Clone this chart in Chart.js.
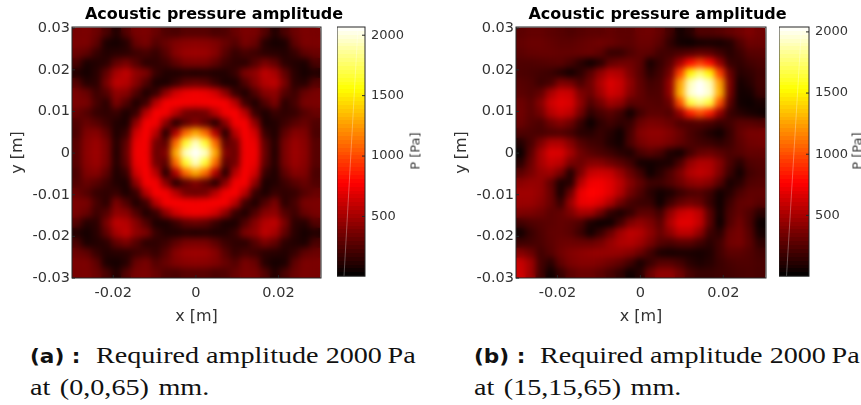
<!DOCTYPE html>
<html>
<head>
<meta charset="utf-8">
<script src="https://cdn.jsdelivr.net/npm/chart.js@4/dist/chart.umd.min.js"></script>
<style>
  html, body { margin: 0; padding: 0; background: #fff; width: 861px; height: 405px; overflow: hidden; position: relative; }
  canvas { position: absolute; top: 0; }
  .cap { position: absolute; font-family: "Liberation Serif", serif; font-size: 22.5px; line-height: 26px; color: #111; white-space: nowrap; transform-origin: 0 50%; transform: scaleX(1.25); }
  .tag { position: absolute; font: bold 20px/26px "DejaVu Sans", sans-serif; color: #111; white-space: nowrap; transform-origin: 0 50%; transform: scaleX(1.08); }
  .plabel { position: absolute; font: 13px "DejaVu Sans", sans-serif; color: #404040; transform: translate(-50%, -50%) rotate(-90deg); white-space: nowrap; }
</style>
</head>
<body>
<canvas id="heatA" width="428" height="330" style="left:0"></canvas>
<canvas id="barA" width="82" height="290" style="left:337px"></canvas>
<canvas id="heatB" width="427" height="330" style="left:444px"></canvas>
<canvas id="barB" width="84" height="290" style="left:779px"></canvas>
<div class="plabel" style="left:415px;top:151px">P [Pa]</div>
<div class="plabel" style="left:857px;top:151px">P [Pa]</div>
<div class="tag" style="left:30px;top:343px">(a) :</div>
<div class="cap" style="left:96px;top:343px">Required amplitude 2000&#8201;Pa</div>
<div class="cap" style="left:30px;top:375px;word-spacing:2px">at (0,0,65) mm.</div>
<div class="tag" style="left:474px;top:343px">(b) :</div>
<div class="cap" style="left:540px;top:343px">Required amplitude 2000&#8201;Pa</div>
<div class="cap" style="left:474px;top:375px;word-spacing:2px">at (15,15,65) mm.</div>
<script>
// grid cell centres (metres), same for x and y
const gridCoords = [-0.0288, -0.0264, -0.024, -0.0216, -0.0192, -0.0168, -0.0144, -0.012, -0.0096, -0.0072, -0.0048, -0.0024, 0,
  0.0024, 0.0048, 0.0072, 0.0096, 0.012, 0.0144, 0.0168, 0.0192, 0.0216, 0.024, 0.0264, 0.0288];
const xTicks = [-0.02, 0, 0.02];
const yTicks = [-0.03, -0.02, -0.01, 0, 0.01, 0.02, 0.03];
const barTicks = [500, 1000, 1500, 2000];
const rangeA = [6, 2068];
const rangeB = [3, 2040];
const axisRange = [-0.03, 0.0303];

// pressure amplitude, top row first
const pressureA = [
  [370,380,330,230,110,260,370,380,320,250,230,270,270,270,230,250,320,380,370,260,110,230,330,380,370],
  [380,380,290,90,70,120,320,370,260,320,390,420,430,420,390,320,260,370,320,120,70,90,290,380,380],
  [330,290,170,110,130,140,190,220,170,270,410,470,480,470,410,270,170,220,190,140,130,110,170,290,330],
  [230,90,110,140,300,370,260,140,150,190,290,370,380,370,290,190,150,140,260,370,300,140,110,90,230],
  [110,70,130,300,510,580,440,380,180,110,100,120,110,120,100,110,180,380,440,580,510,300,130,70,110],
  [260,120,140,370,580,550,410,250,90,90,180,290,320,290,180,90,90,250,410,550,580,370,140,120,260],
  [370,320,190,260,440,410,250,100,180,440,640,720,740,720,640,440,180,100,250,410,440,260,190,320,370],
  [380,370,220,140,380,250,100,200,560,750,760,750,740,750,760,750,560,200,100,250,380,140,220,370,380],
  [320,260,170,150,180,90,180,560,760,740,560,360,330,360,560,740,760,560,180,90,180,150,170,260,320],
  [250,320,270,190,110,90,440,750,740,430,130,290,400,290,130,430,740,750,440,90,110,190,270,320,250],
  [230,390,410,290,100,180,640,760,560,130,550,1100,1300,1100,550,130,560,760,640,180,100,290,410,390,230],
  [270,420,470,370,120,290,720,750,360,290,1100,1650,1950,1650,1100,290,360,750,720,290,120,370,470,420,270],
  [270,430,480,380,110,320,740,740,330,400,1300,1950,2068,1950,1300,400,330,740,740,320,110,380,480,430,270],
  [270,420,470,370,120,290,720,750,360,290,1100,1650,1950,1650,1100,290,360,750,720,290,120,370,470,420,270],
  [230,390,410,290,100,180,640,760,560,130,550,1100,1300,1100,550,130,560,760,640,180,100,290,410,390,230],
  [250,320,270,190,110,90,440,750,740,430,130,290,400,290,130,430,740,750,440,90,110,190,270,320,250],
  [320,260,170,150,180,90,180,560,760,740,560,360,330,360,560,740,760,560,180,90,180,150,170,260,320],
  [380,370,220,140,380,250,100,200,560,750,760,750,740,750,760,750,560,200,100,250,380,140,220,370,380],
  [370,320,190,260,440,410,250,100,180,440,640,720,740,720,640,440,180,100,250,410,440,260,190,320,370],
  [260,120,140,370,580,550,410,250,90,90,180,290,320,290,180,90,90,250,410,550,580,370,140,120,260],
  [110,70,130,300,510,580,440,380,180,110,100,120,110,120,100,110,180,380,440,580,510,300,130,70,110],
  [230,90,110,140,300,370,260,140,150,190,290,370,380,370,290,190,150,140,260,370,300,140,110,90,230],
  [330,290,170,110,130,140,190,220,170,270,410,470,480,470,410,270,170,220,190,140,130,110,170,290,330],
  [380,380,290,90,70,120,320,370,260,320,390,420,430,420,390,320,260,370,320,120,70,90,290,380,380],
  [370,380,330,230,110,260,370,380,320,250,230,270,270,270,230,250,320,380,370,260,110,230,330,380,370],
];

const pressureB = [
  [280,300,300,280,260,240,260,280,280,300,280,280,330,340,300,200,70,120,240,240,260,300,340,380,340],
  [300,320,320,300,280,280,300,320,340,320,290,280,320,320,270,150,60,40,70,80,70,110,240,330,320],
  [280,300,310,310,300,300,310,320,280,170,170,240,290,280,200,200,230,260,300,280,200,120,180,260,270],
  [240,240,250,260,270,220,130,50,130,300,340,340,280,80,170,270,500,800,950,800,450,170,150,200,230],
  [230,220,200,180,120,60,140,270,430,550,520,380,270,130,200,350,950,1500,1750,1500,950,320,120,150,200],
  [260,240,180,220,380,350,230,340,520,660,600,430,290,200,230,450,1250,1900,2040,1900,1250,380,70,120,200],
  [280,250,300,500,620,600,380,330,480,630,580,400,300,230,240,440,1300,1950,2040,1950,1300,360,60,70,180],
  [330,280,400,610,680,650,430,250,350,480,430,280,280,260,250,330,1000,1650,1800,1650,1000,280,60,40,80],
  [340,280,350,540,620,570,350,150,220,270,200,60,200,280,280,250,450,850,1000,850,450,180,120,80,50],
  [320,260,230,340,400,330,170,40,140,200,150,170,320,370,360,320,240,240,260,230,170,200,270,270,250],
  [240,230,220,240,250,210,130,120,170,120,50,220,390,430,430,390,320,230,170,100,50,170,300,360,360],
  [110,220,380,520,520,400,260,200,180,100,60,230,350,400,400,360,300,240,200,180,140,190,280,340,350],
  [40,270,500,660,650,500,340,270,230,190,130,100,220,270,220,100,60,200,310,330,280,230,260,300,300],
  [130,320,500,600,560,370,330,400,400,340,280,200,70,60,80,90,230,440,530,520,400,230,130,240,260],
  [280,360,450,480,360,110,370,590,620,590,460,320,200,50,130,240,370,530,580,540,380,190,60,200,240],
  [420,450,440,300,90,120,540,720,730,670,560,400,290,190,190,250,330,420,450,400,260,80,130,240,260],
  [480,480,440,320,80,330,700,770,750,670,530,350,240,130,60,90,170,230,250,190,60,120,230,290,290],
  [460,460,410,320,170,460,700,720,660,520,340,220,180,170,50,190,300,350,310,170,50,190,290,310,270],
  [380,370,340,280,300,380,500,490,340,150,90,160,280,280,200,430,600,640,560,270,60,230,300,240,130],
  [200,240,260,280,300,280,230,90,40,50,200,380,440,380,280,520,680,680,580,280,40,250,340,230,40],
  [60,170,240,290,300,270,180,60,170,320,480,570,540,430,320,430,570,570,430,190,130,320,360,260,70],
  [190,200,230,280,320,330,320,320,360,450,520,540,480,370,260,230,270,270,200,130,200,340,360,280,140],
  [400,330,200,260,340,390,420,440,450,450,440,400,320,200,90,70,80,80,70,100,200,280,280,250,200],
  [600,480,210,130,290,370,400,400,380,340,290,200,80,170,260,260,210,130,90,120,180,220,240,240,220],
  [620,480,200,50,170,280,320,320,280,220,150,50,120,320,430,430,340,220,170,170,190,200,220,230,220],
];

const textColor = "#333333";
const frameColor = "#262626";
const tickFont = { family: "'DejaVu Sans', sans-serif", size: 14.5 };
const labelFont = { family: "'DejaVu Sans', sans-serif", size: 16 };
const barFont = { family: "'DejaVu Sans', sans-serif", size: 13 };

// MATLAB "hot" colormap, t in 0..1
function hot(t) {
  const c = (v) => Math.max(0, Math.min(1, v));
  const r = Math.round(255 * c(t / 0.375));
  const g = Math.round(255 * c((t - 0.375) / 0.375));
  const b = Math.round(255 * c((t - 0.75) / 0.25));
  return `rgb(${r},${g},${b})`;
}

// redraw the cells through a blur, the reference is shaded with interp
const smoothCells = {
  id: "smoothCells",
  afterDatasetsDraw(chart) {
    const a = chart.chartArea, ctx = chart.ctx;
    ctx.save();
    ctx.beginPath();
    ctx.rect(a.left, a.top, a.width, a.height);
    ctx.clip();
    ctx.filter = "blur(3px)";
    ctx.drawImage(chart.canvas, 0, 0);
    ctx.restore();
  },
};

// the title sits over plot + colorbar, not over the plot only
const wideTitle = {
  id: "wideTitle",
  afterLayout(chart) {
    chart.titleBlock.left = 0;
    chart.titleBlock.right = chart.width;
    chart.titleBlock.width = chart.width;
  },
};

// box round the plot with short inward ticks
const frameTicks = {
  id: "frameTicks",
  afterDraw(chart) {
    const a = chart.chartArea, ctx = chart.ctx;
    const { x, y } = chart.scales;
    ctx.save();
    ctx.strokeStyle = frameColor;
    ctx.lineWidth = 1;
    ctx.strokeRect(a.left, a.top, a.width, a.height);
    const len = 3;
    ctx.beginPath();
    if (x.options.display) {
      x.ticks.forEach((t) => {
        const px = x.getPixelForValue(t.value);
        ctx.moveTo(px, a.bottom); ctx.lineTo(px, a.bottom - len);
      });
    }
    y.ticks.forEach((t) => {
      const py = y.getPixelForValue(t.value);
      if (y.position === "left") { ctx.moveTo(a.left, py); ctx.lineTo(a.left + len, py); }
      else { ctx.moveTo(a.right, py); ctx.lineTo(a.right - len, py); }
    });
    ctx.stroke();
    ctx.restore();
  },
};

function heatChart(id, values, range, rightPad) {
  const points = [], colors = [];
  values.forEach((row, r) => row.forEach((v, c) => {
    points.push({ x: gridCoords[c], y: gridCoords[24 - r] });
    colors.push(hot((v - range[0]) / (range[1] - range[0])));
  }));
  return new Chart(document.getElementById(id), {
    type: "scatter",
    data: { datasets: [{
      data: points,
      backgroundColor: colors,
      borderWidth: 0,
      pointStyle: "rect",
      pointRadius: (ctx) => (ctx.chart.chartArea ? ctx.chart.chartArea.width / 25 * 0.75 : 8),
    }] },
    options: {
      responsive: false,
      animation: false,
      layout: { padding: { right: rightPad } },
      plugins: {
        legend: { display: false },
        tooltip: { enabled: false },
        title: {
          display: true,
          text: "Acoustic pressure amplitude",
          color: "#000",
          font: { family: "'DejaVu Sans', sans-serif", size: 16, weight: "bold", lineHeight: 1.2 },
          padding: { top: 5, bottom: 2.8 },
        },
      },
      scales: {
        x: {
          type: "linear", min: axisRange[0], max: axisRange[1],
          afterBuildTicks: (s) => { s.ticks = xTicks.map((v) => ({ value: v })); },
          afterFit: (s) => { s.height = 52; },
          grid: { display: false, drawTicks: false },
          border: { display: false },
          ticks: { color: textColor, font: tickFont, padding: 7, maxRotation: 0, callback: (v) => String(v) },
          title: { display: true, text: "x [m]", color: textColor, font: labelFont, padding: { top: 0, bottom: 4 } },
        },
        y: {
          type: "linear", min: axisRange[0], max: axisRange[1],
          afterBuildTicks: (s) => { s.ticks = yTicks.map((v) => ({ value: v })); },
          afterFit: (s) => { s.width = 72; },
          grid: { display: false, drawTicks: false },
          border: { display: false },
          ticks: { color: textColor, font: tickFont, padding: 2, callback: (v) => String(v) },
          title: { display: true, text: "y [m]", color: textColor, font: labelFont, padding: { top: 8, bottom: 0 } },
        },
      },
    },
    plugins: [smoothCells, wideTitle, frameTicks],
  });
}

function colorBar(id, range, thickness, bottomPad) {
  return new Chart(document.getElementById(id), {
    data: { datasets: [
      {
        type: "line",
        data: [{ x: 0, y: range[0] }, { x: 1, y: range[1] }],
        borderColor: "rgba(255,255,255,0.3)",
        borderWidth: 1,
        pointRadius: 0,
      },
      {
        type: "bar",
        data: [{ x: 0.5, y: range }],
        barThickness: thickness,
        backgroundColor: (ctx) => {
          const chart = ctx.chart;
          if (!chart.chartArea) return "#000";
          const g = chart.ctx.createLinearGradient(0, chart.chartArea.bottom, 0, chart.chartArea.top);
          for (let i = 0; i < 64; i++) {
            g.addColorStop(i / 64, hot((i + 0.5) / 64));
            g.addColorStop((i + 1) / 64, hot((i + 0.5) / 64));
          }
          return g;
        },
      },
    ] },
    options: {
      responsive: false,
      animation: false,
      layout: { padding: { top: 27, bottom: bottomPad } },
      plugins: { legend: { display: false }, tooltip: { enabled: false } },
      scales: {
        x: { type: "linear", min: 0, max: 1, display: false },
        y: {
          type: "linear", position: "right", min: range[0], max: range[1],
          afterBuildTicks: (s) => { s.ticks = barTicks.map((v) => ({ value: v })); },
          afterFit: (s) => { s.width = 54; },
          grid: { display: false, drawTicks: false },
          border: { display: false },
          ticks: { color: textColor, font: barFont, padding: 6, callback: (v) => String(v) },
        },
      },
    },
    plugins: [frameTicks],
  });
}

heatChart("heatA", pressureA, rangeA, 107);
colorBar("barA", rangeA, 28, 11);
heatChart("heatB", pressureB, rangeB, 105);
colorBar("barB", rangeB, 30, 12);
</script>
</body>
</html>
